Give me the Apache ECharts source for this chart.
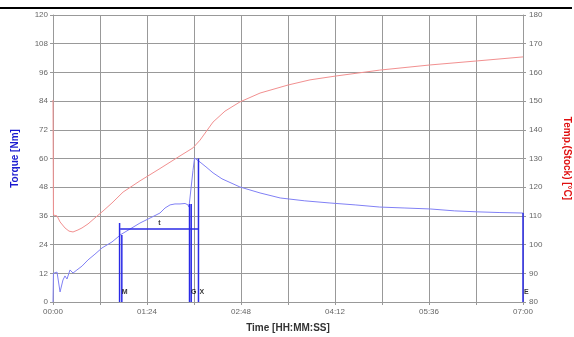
<!DOCTYPE html>
<html>
<head>
<meta charset="utf-8">
<script src="https://cdn.jsdelivr.net/npm/echarts@6/dist/echarts.min.js"></script>
<style>html,body{margin:0;padding:0;background:#fff}#c{width:574px;height:337px}</style>
</head>
<body>
<div id="c"></div>
<script>
// Time in seconds, torque in Nm
const torqueTime = [0,0.4,3.6,6.3,7.6,8.9,10.7,12.5,15.2,17.9,21.4,25.9,31.3,37.5,43.8,52.7,58.1,59.9,68.8,77.7,86.7,95.6,100.1,104.6,109,113.5,118,120.6,121.5,125.1,126.5,127.8,131.4,136.7,143,151,167,185,203,225,247.5,270,292,314.5,337,359,379,399.4,420];
const torqueVal  = [0,12,12.5,4.2,5,9.2,10.9,9.6,13.4,12.1,13.4,15,17.6,20,22.6,25.1,27.2,28,30.5,33,35.1,37.2,39.3,40.6,41,41,41.2,40.6,39.7,55,60.2,59.8,58.5,56.5,54,51.5,48.1,45.6,43.5,42.3,41.4,40.6,39.7,39.3,38.9,38.1,37.7,37.4,37.2];
// Time in seconds, temperature in C
const tempTime = [0,0.4,3.6,6.3,10.7,14.3,17.9,22.3,25.9,31.3,37.5,44.7,52.7,62.6,77.7,95.6,113.5,125.1,131.4,143,153.7,167,185,210,229.7,252,292,337,379,420];
const tempVal  = [150.4,110.3,110,107.9,105.8,104.7,104.4,105.1,105.8,107.2,109.3,111.7,114.5,118.3,122.2,126.5,130.9,133.7,136.4,142.7,146.5,149.7,152.8,155.6,157.4,158.7,160.8,162.6,164,165.4];
// Event markers (vertical lines)
const markerTimes = [59.5, 61.5, 122, 123.5, 130, 420];
const markerTops  = [33, 28, 41, 41, 60, 37.2];
const labelTimes  = [60.5, 122.5, 130, 420];
const labelTexts  = ['M', 'G', 'X', 'E'];
const labelLevel  = 4;
const spanStart = 60, spanEnd = 130, spanLevel = 30.5, spanLabel = 't';
const leftTicks = {min:0, max:120, interval:12};
const rightTicks = {min:80, max:180, interval:10};
const timeTicks = {min:0, max:420, interval:42, labelStep:84};

const fmt = v => { const m = Math.floor(v/60), s = Math.round(v%60); return String(m).padStart(2,'0')+':'+String(s).padStart(2,'0'); };
const markerColor = '#2a2ae6';
const font = 'Liberation Sans, Arial, sans-serif';
const series = [
  {type:'line', yAxisIndex:1, data: tempTime.map((t,i)=>[t,tempVal[i]]), symbol:'none', lineStyle:{color:'#f29090', width:1}, z:3},
  {type:'line', yAxisIndex:0, data: torqueTime.map((t,i)=>[t,torqueVal[i]]), symbol:'none', lineStyle:{color:'#8080f5', width:1}, z:3}
];
markerTimes.forEach((t,i)=>{
  series.push({type:'line', yAxisIndex:0, data:[[t,0],[t,markerTops[i]]], symbol:'none', lineStyle:{color:markerColor, width:1.5}, z:4, silent:true});
});
series.push({type:'line', yAxisIndex:0, data:[[spanStart,spanLevel],[spanEnd,spanLevel]], symbol:'none', lineStyle:{color:markerColor, width:1.5}, z:4, silent:true});
series.push({type:'scatter', yAxisIndex:0, symbolSize:0, z:5,
  data: labelTimes.map((t,i)=>({value:[t,labelLevel], label:{show:true, formatter:labelTexts[i], position:'right', distance:1, fontSize:7, fontWeight:'bold', color:'#000', fontFamily:font}}))});
series.push({type:'scatter', yAxisIndex:0, symbolSize:0, z:5,
  data:[{value:[(spanStart+spanEnd)/2, spanLevel], label:{show:true, formatter:spanLabel, position:'top', distance:2, fontSize:7, fontWeight:'bold', color:'#000', fontFamily:font}}]});

const axisLineStyle = {lineStyle:{color:'#999', width:1}};
const chart = echarts.init(document.getElementById('c'), null, {renderer:'canvas'});
chart.setOption({
  animation:false,
  backgroundColor:'#fff',
  grid:{left:53, right:51, top:15, bottom:35, outerBoundsMode:'none', containLabel:false},
  graphic:[{type:'rect', shape:{x:0, y:7, width:572, height:2}, style:{fill:'#000'}}],
  xAxis:{type:'value', min:timeTicks.min, max:timeTicks.max, interval:timeTicks.interval,
    name:'Time [HH:MM:SS]', nameLocation:'middle', nameGap:21,
    nameTextStyle:{fontSize:10, fontWeight:'bold', color:'#333', fontFamily:font},
    axisLine:axisLineStyle, axisTick:{show:true, length:3, lineStyle:{color:'#999'}},
    splitLine:{show:true, lineStyle:{color:'#999', width:1}},
    axisLabel:{fontSize:8, color:'#666', fontFamily:font, margin:6, formatter:v => (v % timeTicks.labelStep === 0 ? fmt(v) : '')}},
  yAxis:[
    {type:'value', min:leftTicks.min, max:leftTicks.max, interval:leftTicks.interval, position:'left',
      name:'Torque [Nm]', nameLocation:'middle', nameGap:33, nameRotate:90,
      nameTextStyle:{fontSize:10, fontWeight:'bold', color:'#1a1ad0', fontFamily:font},
      axisLine:{show:true, lineStyle:{color:'#999'}}, axisTick:{show:true, length:3, lineStyle:{color:'#999'}},
      splitLine:{show:true, lineStyle:{color:'#999', width:1}},
      axisLabel:{fontSize:8, color:'#666', fontFamily:font, margin:5}},
    {type:'value', min:rightTicks.min, max:rightTicks.max, interval:rightTicks.interval, position:'right',
      name:'Temp.(Stock) [°C]', nameLocation:'middle', nameGap:39, nameRotate:-90,
      nameTextStyle:{fontSize:10, fontWeight:'bold', color:'#e01010', fontFamily:font},
      axisLine:{show:true, lineStyle:{color:'#999'}}, axisTick:{show:true, length:3, lineStyle:{color:'#999'}},
      splitLine:{show:false},
      axisLabel:{fontSize:8, color:'#666', fontFamily:font, margin:6}}
  ],
  series: series
});
</script>
</body>
</html>
